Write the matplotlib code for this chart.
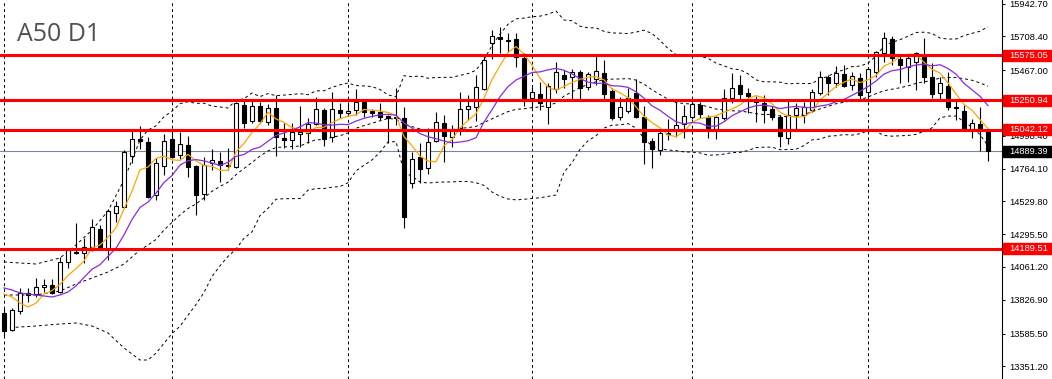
import numpy as np
import pandas as pd
import matplotlib.pyplot as plt
from matplotlib.patches import Rectangle
from matplotlib.transforms import blended_transform_factory

title = "A50 D1"

opens = [13732.4, 13611.0, 13746.7, 13875.3, 13868.1, 13918.1, 13932.4, 13882.4, 14096.7, 14168.1,
         14160.9, 14203.8, 14332.3, 14196.6, 14446.6, 14489.5, 14853.7, 14975.1, 14953.7, 14575.2,
         14782.3, 14975.1, 14860.9, 14932.3, 14782.3, 14582.3, 14803.7, 14818.0, 14789.4, 14775.2,
         15218.0, 15103.7, 15210.8, 15096.5, 15196.5, 14982.3, 14968.0, 15010.8, 15018.0, 15082.3,
         15182.2, 14989.4, 15182.2, 15160.8, 15182.2, 15239.4, 15175.1, 15168.0, 15139.4, 15132.2,
         15125.1, 14660.9, 14846.6, 14768.0, 14960.8, 15089.4, 14989.4, 15053.7, 15189.4, 15203.7,
         15332.2, 15660.8, 15703.6, 15682.2, 15689.3, 15553.6, 15267.9, 15296.5, 15203.7, 15332.2,
         15432.2, 15417.9, 15453.6, 15346.5, 15403.6, 15446.5, 15317.9, 15132.2, 15175.1, 15303.7,
         15132.2, 14960.8, 14896.6, 15018.0, 15032.3, 15082.3, 15132.2, 15218.0, 15132.2, 15046.5,
         15125.1, 15267.9, 15360.8, 15303.7, 15246.5, 15232.2, 15189.4, 15132.2, 14982.3, 15146.5,
         15146.5, 15182.2, 15303.7, 15417.9, 15375.1, 15439.4, 15360.8, 15410.8, 15310.8, 15453.6,
         15589.3, 15689.3, 15546.5, 15489.3, 15525.1, 15567.9, 15417.9, 15303.7, 15353.6, 15203.7,
         15175.1, 15039.4, 15082.3, 15039.4]
highs = [13768.1, 13768.1, 13911.0, 13911.0, 13982.4, 13975.2, 13975.2, 14132.4, 14196.6, 14375.2,
         14268.1, 14403.8, 14360.9, 14475.2, 14532.3, 14896.6, 15039.4, 15068.0, 14989.4, 14839.4,
         15010.8, 15025.1, 15025.1, 14996.5, 14789.4, 14846.6, 14903.7, 14882.3, 14910.8, 15239.4,
         15260.8, 15260.8, 15239.4, 15225.1, 15289.4, 15089.4, 15089.4, 15210.8, 15125.1, 15275.1,
         15196.5, 15310.8, 15232.2, 15225.1, 15332.2, 15260.8, 15189.4, 15232.2, 15146.5, 15339.4,
         15203.7, 14882.3, 14946.6, 15053.7, 15168.0, 15146.5, 15075.1, 15310.8, 15289.4, 15432.2,
         15575.1, 15753.6, 15775.0, 15732.2, 15732.2, 15589.3, 15346.5, 15382.2, 15375.1, 15525.1,
         15467.9, 15475.1, 15467.9, 15453.6, 15567.9, 15539.3, 15339.4, 15275.1, 15339.4, 15403.6,
         15210.8, 14982.3, 15032.3, 15118.0, 15253.7, 15218.0, 15239.4, 15239.4, 15146.5, 15139.4,
         15332.2, 15446.5, 15432.2, 15339.4, 15282.2, 15289.4, 15210.8, 15146.5, 15260.8, 15232.2,
         15239.4, 15332.2, 15460.8, 15432.2, 15496.5, 15503.6, 15453.6, 15446.5, 15489.3, 15603.6,
         15739.3, 15710.7, 15575.1, 15575.1, 15596.5, 15696.5, 15517.9, 15417.9, 15453.6, 15246.5,
         15218.0, 15118.0, 15203.7, 15046.5]
lows = [13568.2, 13603.9, 13725.3, 13811.0, 13846.7, 13882.4, 13868.1, 13875.3, 14053.8, 14153.8,
        14089.5, 14175.2, 14189.5, 14110.9, 14382.3, 14482.4, 14803.7, 14903.7, 14553.7, 14539.5,
        14718.0, 14839.4, 14832.3, 14703.7, 14432.3, 14539.5, 14753.7, 14668.0, 14753.7, 14768.0,
        15053.7, 15089.4, 15089.4, 15075.1, 14853.7, 14910.8, 14903.7, 14918.0, 14946.6, 15075.1,
        14925.1, 14953.7, 15125.1, 15139.4, 15146.5, 15132.2, 15132.2, 15110.8, 14946.6, 15075.1,
        14339.5, 14625.2, 14660.9, 14725.2, 14953.7, 14810.9, 14918.0, 15003.7, 15110.8, 15103.7,
        15325.1, 15546.5, 15589.3, 15596.5, 15489.3, 15210.8, 15196.5, 15182.2, 15082.3, 15303.7,
        15339.4, 15260.8, 15260.8, 15325.1, 15360.8, 15253.7, 15110.8, 15110.8, 15160.8, 15125.1,
        14796.6, 14768.0, 14860.9, 14968.0, 14989.4, 14982.3, 15118.0, 15125.1, 14982.3, 14975.1,
        15110.8, 15232.2, 15246.5, 15160.8, 15096.5, 15089.4, 15110.8, 14918.0, 14939.4, 15046.5,
        15089.4, 15168.0, 15289.4, 15289.4, 15346.5, 15346.5, 15325.1, 15253.7, 15275.1, 15417.9,
        15525.1, 15503.6, 15375.1, 15382.2, 15325.1, 15375.1, 15267.9, 15253.7, 15182.2, 15110.8,
        15032.3, 14982.3, 14889.4, 14818.0]
closes = [13603.9, 13753.8, 13875.3, 13861.0, 13918.1, 13932.4, 13875.3, 14096.7, 14182.4, 14160.9,
          14203.8, 14346.6, 14196.6, 14460.9, 14496.6, 14882.3, 14975.1, 14960.8, 14560.9, 14803.7,
          14960.8, 14846.6, 14939.4, 14775.2, 14575.2, 14789.4, 14825.1, 14789.4, 14782.3, 15232.2,
          15089.4, 15210.8, 15103.7, 15196.5, 14989.4, 14968.0, 15025.1, 15025.1, 15082.3, 15189.4,
          14975.1, 15189.4, 15160.8, 15175.1, 15239.4, 15168.0, 15160.8, 15132.2, 15125.1, 15125.1,
          14418.0, 14832.3, 14760.9, 14953.7, 15096.5, 14996.5, 15039.4, 15189.4, 15210.8, 15346.5,
          15539.3, 15710.7, 15689.3, 15678.0, 15560.8, 15267.9, 15310.8, 15232.2, 15353.6, 15453.6,
          15403.6, 15453.6, 15339.4, 15439.4, 15460.8, 15296.5, 15125.1, 15203.7, 15267.9, 15132.2,
          14953.7, 14903.7, 15018.0, 15010.8, 15075.1, 15139.4, 15225.1, 15153.7, 15053.7, 15132.2,
          15267.9, 15339.4, 15296.5, 15282.2, 15239.4, 15182.2, 15132.2, 14996.5, 15146.5, 15196.5,
          15203.7, 15310.8, 15417.9, 15375.1, 15446.5, 15353.6, 15425.1, 15289.4, 15475.1, 15596.5,
          15696.5, 15553.6, 15503.6, 15553.6, 15589.3, 15417.9, 15296.5, 15375.1, 15203.7, 15196.5,
          15039.4, 15089.4, 15039.4, 14889.39]

levels = [15575.05, 15250.94, 15042.12, 14189.51]
last_price = 14889.39

tick_values = [15942.70, 15708.40, 15467.00, 15232.70, 14998.40, 14764.10,
               14529.80, 14295.50, 14061.20, 13826.90, 13585.50, 13351.20]
tick_labels = ["15942.70", "15708.40", "15467.00", "15232.70", "14998.40", "14764.10",
               "14529.80", "14295.50", "14061.20", "13826.90", "13585.50", "13351.20"]

# bar index of each month start (vertical grid)
month_starts = [0, 21, 43, 66, 86, 108]

bb_head_idx = [0, 4, 7, 9, 11, 13, 15, 17, 18]
bb_head_upper = [14096.7, 14082.4, 14125.2, 14218.1, 14325.2, 14460.9, 14682.3, 14968.0, 15039.4]
bb_head_mid = [13861.0, 13861.0, 13889.5, 13939.5, 13982.4, 14025.2, 14082.4, 14182.4, 14218.1]
bb_head_lower = [13625.3, 13639.6, 13653.9, 13661.0, 13639.6, 13589.6, 13482.4, 13396.7, 13396.7]
ma5_head = [13868.1, 13846.7, 13803.8, 13775.3]
ma10_head = [13911.0, 13896.7, 13875.3, 13868.1, 13861.0, 13853.8, 13846.7, 13861.0, 13882.4]

df = pd.DataFrame({"open": opens, "high": highs, "low": lows, "close": closes})
n = len(df)
idx = np.arange(n)

ma5 = df["close"].rolling(5).mean()
ma10 = df["close"].rolling(10).mean()
mid = df["close"].rolling(20).mean()
sd = df["close"].rolling(20).std(ddof=0)
upper = mid + 2 * sd
lower = mid - 2 * sd

fig = plt.figure(figsize=(10.52, 3.79), dpi=100)
ax = fig.add_axes([0, 0, 1002 / 1052, 1])
ax.set_xlim(-0.5, 124.75)
ax.set_ylim(13261.0, 15967.9)

for k in month_starts:
    ax.axvline(k, color="black", lw=0.7, ls=(0, (3, 3)), zorder=0)

ax.axhline(last_price, color="#778899", lw=0.8, zorder=1)

# bollinger bands
bb_x = bb_head_idx + list(idx[19:])
for head, band in [(bb_head_upper, upper), (bb_head_mid, mid), (bb_head_lower, lower)]:
    ax.plot(bb_x, head + list(band[19:]), color="black", lw=0.7, ls=(0, (3, 3)), zorder=2)

# candles
up = df["close"] >= df["open"]
ax.vlines(idx, df["low"], df["high"], color="black", lw=0.8, zorder=3)
body_lo = np.minimum(df["open"], df["close"])
body_h = (df["close"] - df["open"]).abs()
ax.bar(idx[up], body_h[up], bottom=body_lo[up], width=0.6, color="white",
       edgecolor="black", lw=0.8, zorder=4)
ax.bar(idx[~up], body_h[~up], bottom=body_lo[~up], width=0.6, color="black",
       edgecolor="black", lw=0.8, zorder=4)

ax.plot(list(idx[:4]) + list(idx[4:]), ma5_head + list(ma5[4:]), color="#FFA500", lw=0.9, zorder=5)
ax.plot(list(idx[:9]) + list(idx[9:]), ma10_head + list(ma10[9:]), color="#8A2BE2", lw=0.9, zorder=5)

for lvl in levels:
    ax.axhline(lvl, color="red", lw=2.2, zorder=6)

for s in ["top", "left", "bottom"]:
    ax.spines[s].set_visible(False)
ax.spines["right"].set_linewidth(0.8)
ax.set_xticks([])
ax.yaxis.tick_right()
ax.set_yticks(tick_values)
ax.set_yticklabels(tick_labels)
ax.tick_params(axis="y", direction="out", length=2.5, width=0.7, pad=3,
               labelsize=6.7, labelcolor="black")
for lab in ax.get_yticklabels():
    lab.set_family("Liberation Sans")

# price tags on the right axis, drawn over the tick labels as in the terminal
trans = blended_transform_factory(ax.transAxes, ax.transData)
px = (15967.9 - 13261.0) / 379
for lvl, col in [(v, "red") for v in levels] + [(last_price, "black")]:
    ax.add_patch(Rectangle((1.001, lvl - 5.5 * px), 0.06, 11 * px, transform=trans,
                           color=col, clip_on=False, zorder=10))
    ax.text(1.007, lvl, f"{lvl:.2f}", transform=trans, color="white", fontsize=6.7,
            family="Liberation Sans", va="center", ha="left", zorder=11, clip_on=False)

ax.text(0.017, 0.909, title, transform=ax.transAxes, fontsize=18, color="#505050",
        family="Open Sans", va="center", ha="left")

fig.savefig("out.png", dpi=100)
